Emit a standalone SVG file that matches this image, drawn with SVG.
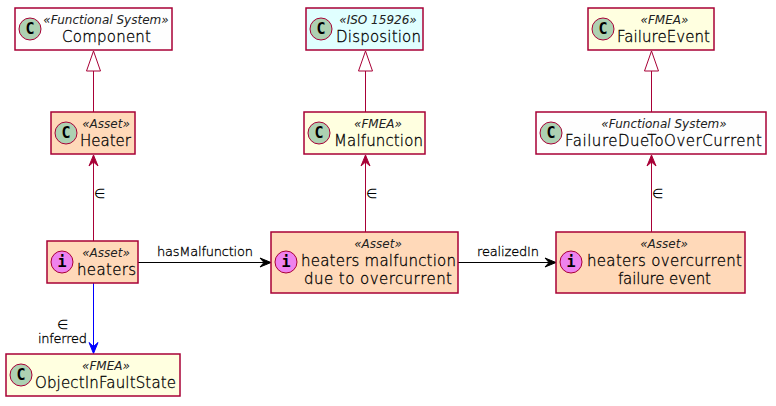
<svg xmlns="http://www.w3.org/2000/svg" width="776" height="406" viewBox="0 0 776 406">
<style>
text{font-family:"DejaVu Sans",sans-serif;font-weight:200;fill:#000;stroke:#000;stroke-width:.3}
.b{stroke:#A80036;stroke-width:1.5}
.c{fill:#ADD1B2;stroke:#A80036;stroke-width:1}
.i{fill:#EE82EE;stroke:#A80036;stroke-width:1}
.o{fill:#FEFEFE}.a{fill:#FFD9B9}.f{fill:#FFFFE0}.s{fill:#E0FFFF}
text.g{font-family:"DejaVu Sans Mono",monospace;font-weight:bold;font-size:15px;text-anchor:middle;stroke:none}
text.st{font-size:12px;font-style:italic;text-anchor:middle;stroke:none;fill:#222}
.n{font-size:15px}
.l{font-size:13px}
text.m{font-size:13px;stroke:none}
.e{fill:none;stroke:#A80036;stroke-width:1}
.k{fill:none;stroke:#000;stroke-width:1}
</style>
<g id="connectors">
<path class="e" d="M93.500 112V71"/><path d="M93.500 51L86.500 71L100.500 71Z" fill="#fff" stroke="#A80036"/>
<path class="e" d="M365.500 112V71"/><path d="M365.500 51L358.500 71L372.500 71Z" fill="#fff" stroke="#A80036"/>
<path class="e" d="M651.500 112V71"/><path d="M651.500 51L644.500 71L658.500 71Z" fill="#fff" stroke="#A80036"/>
<path class="e" d="M93.500 241V160"/><path d="M93.500 155L89 166L93.500 162L98 166Z" fill="#A80036" stroke="#A80036"/>
<path class="e" d="M365.500 232V160"/><path d="M365.500 155L361 166L365.500 162L370 166Z" fill="#A80036" stroke="#A80036"/>
<path class="e" d="M651.500 232V160"/><path d="M651.500 155L647 166L651.500 162L656 166Z" fill="#A80036" stroke="#A80036"/>
<path class="k" d="M138 262.500H266"/><path d="M271 262.500L260 258L264 262.500L260 267Z" fill="#000" stroke="#000"/>
<path class="k" d="M458 262.500H551"/><path d="M556 262.500L545 258L549 262.500L545 267Z" fill="#000" stroke="#000"/>
<path d="M93.500 283V348" fill="none" stroke="#0000FF"/><path d="M93.500 353.500L89 342.500L93.500 346.500L98 342.500Z" fill="#0000FF" stroke="#0000FF"/>
<text class="m" x="94" y="198">∈</text>
<text class="m" x="366" y="198">∈</text>
<text class="m" x="652" y="198">∈</text>
<text class="l" x="157" y="256" textLength="96">hasMalfunction</text>
<text class="l" x="477" y="256" textLength="62">realizedIn</text>
<text class="m" x="62.500" y="329" text-anchor="middle">∈</text>
<text class="l" x="38" y="343" textLength="49">inferred</text>
</g>
<g id="component"><rect class="b o" x="15" y="8" width="157" height="42"/><circle class="c" cx="30" cy="29" r="11"/><text class="g" x="30" y="34">C</text><text class="st" x="106" y="24">«Functional System»</text><text class="n" x="62" y="42" textLength="89">Component</text></g>
<g id="disposition"><rect class="b s" x="306" y="8" width="117" height="42"/><circle class="c" cx="321" cy="29" r="11"/><text class="g" x="321" y="34">C</text><text class="st" x="378" y="24">«ISO 15926»</text><text class="n" x="336" y="42" textLength="85">Disposition</text></g>
<g id="failure-event"><rect class="b f" x="588" y="8" width="126" height="42"/><circle class="c" cx="603" cy="29" r="11"/><text class="g" x="603" y="34">C</text><text class="st" x="664.500" y="24">«FMEA»</text><text class="n" x="617" y="42" textLength="93">FailureEvent</text></g>
<g id="heater"><rect class="b a" x="51" y="112" width="84" height="42"/><circle class="c" cx="66" cy="133" r="11"/><text class="g" x="66" y="138">C</text><text class="st" x="106" y="128">«Asset»</text><text class="n" x="80" y="146" textLength="51">Heater</text></g>
<g id="malfunction"><rect class="b f" x="304" y="112" width="121" height="42"/><circle class="c" cx="319" cy="133" r="11"/><text class="g" x="319" y="138">C</text><text class="st" x="378" y="128">«FMEA»</text><text class="n" x="334" y="146" textLength="89">Malfunction</text></g>
<g id="failure-due"><rect class="b o" x="536" y="112" width="230" height="42"/><circle class="c" cx="551" cy="133" r="11"/><text class="g" x="551" y="138">C</text><text class="st" x="664" y="128">«Functional System»</text><text class="n" x="565" y="146" textLength="197">FailureDueToOverCurrent</text></g>
<g id="heaters"><rect class="b a" x="47" y="241" width="91" height="42"/><circle class="i" cx="62" cy="262" r="11"/><text class="g" x="62" y="267">i</text><text class="st" x="106" y="257">«Asset»</text><text class="n" x="77" y="275" textLength="59">heaters</text></g>
<g id="heaters-malfunction"><rect class="b a" x="271" y="232" width="187" height="61"/><circle class="i" cx="286" cy="262" r="11"/><text class="g" x="286" y="267">i</text><text class="st" x="378" y="248">«Asset»</text><text class="n" x="301" y="266" textLength="155">heaters malfunction</text><text class="n" x="304" y="284" textLength="148">due to overcurrent</text></g>
<g id="heaters-overcurrent"><rect class="b a" x="556" y="232" width="189" height="61"/><circle class="i" cx="571" cy="262" r="11"/><text class="g" x="571" y="267">i</text><text class="st" x="664" y="248">«Asset»</text><text class="n" x="587" y="266" textLength="155">heaters overcurrent</text><text class="n" x="618" y="284" textLength="93">failure event</text></g>
<g id="object-in-fault"><rect class="b f" x="6" y="354" width="174" height="42"/><circle class="c" cx="21" cy="375" r="11"/><text class="g" x="21" y="380">C</text><text class="st" x="106" y="370">«FMEA»</text><text class="n" x="35" y="388" textLength="141">ObjectInFaultState</text></g>
</svg>
